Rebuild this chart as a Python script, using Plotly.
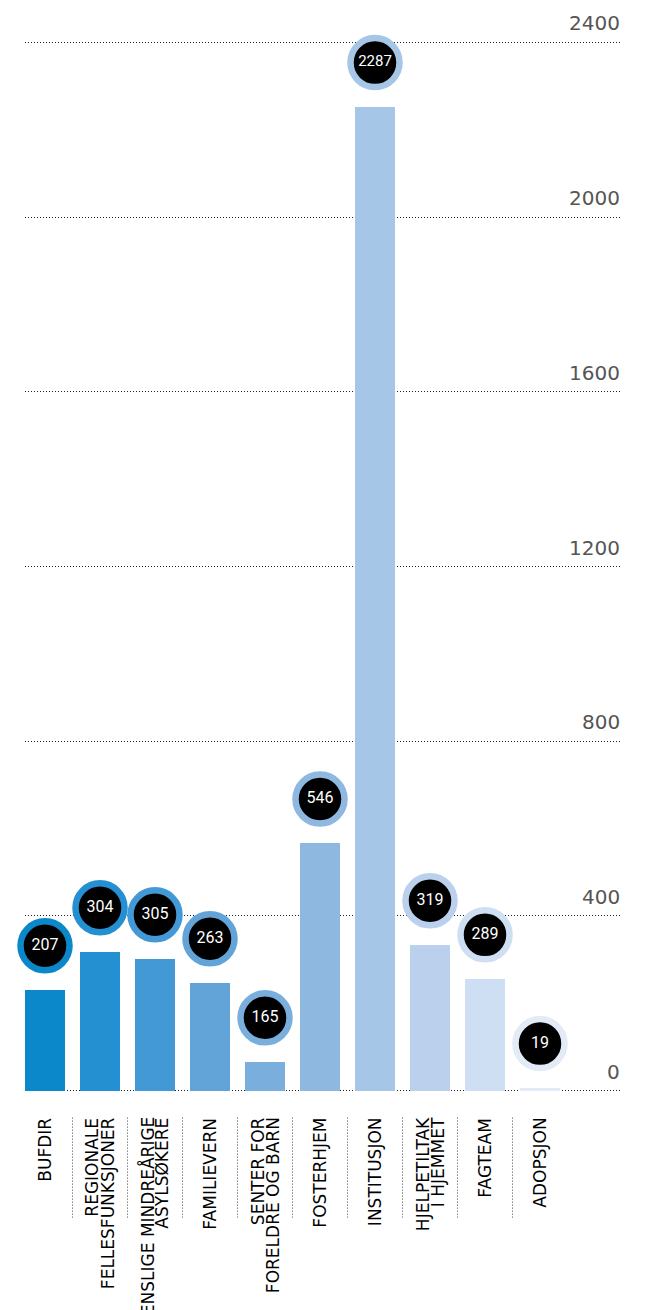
import plotly.graph_objects as go

# ---- data ----
categories = [
    "BUFDIR",
    "REGIONALE\nFELLESFUNKSJONER",
    "ENSLIGE MINDREÅRIGE\nASYLSØKERE",
    "FAMILIEVERN",
    "SENTER FOR\nFORELDRE OG BARN",
    "FOSTERHJEM",
    "INSTITUSJON",
    "HJELPETILTAK\nI HJEMMET",
    "FAGTEAM",
    "ADOPSJON",
]
bar_values = [231, 318, 302, 247, 66, 567, 2253, 334, 256, 7]
label_values = [207, 304, 305, 263, 165, 546, 2287, 319, 289, 19]
colors = ["#0a88c9", "#2590d1", "#4399d5", "#62a3d8", "#7aaedd",
          "#8fb8e1", "#a6c6e7", "#bad0ec", "#cfdff3", "#e3ebf7"]
y_ticks = [0, 400, 800, 1200, 1600, 2000, 2400]

# ---- layout constants (page body has an 8px margin) ----
PAGE_OFF = 8
W, H = 659 - PAGE_OFF, 1310 - PAGE_OFF
PLOT_LEFT, PLOT_RIGHT = 25, 622          # page pixels
Y0_PX, YTOP_PX = 1091, 42               # page pixels of value 0 and 2400
Y_MAX = 2400
Y_PAD = 10                               # data units of headroom so edge gridlines draw
PX_PER_UNIT = (Y0_PX - YTOP_PX) / Y_MAX
plot_top = YTOP_PX - Y_PAD * PX_PER_UNIT
plot_bot = Y0_PX + Y_PAD * PX_PER_UNIT
ML = PLOT_LEFT - PAGE_OFF
MR = 659 - PLOT_RIGHT
MT = plot_top - PAGE_OFF
MB = 1310 - plot_bot
PLOT_W = PLOT_RIGHT - PLOT_LEFT
PLOT_H = plot_bot - plot_top
CAT_PX = 55
BAR_PX = 40
X0 = -(BAR_PX / 2) / CAT_PX
X1 = X0 + PLOT_W / CAT_PX
CIRCLE_OFFSET = 44 / PX_PER_UNIT  # circle centre sits 44px above bar top

xs = list(range(len(categories)))

fig = go.Figure()
fig.add_trace(go.Bar(
    x=xs, y=bar_values,
    width=BAR_PX / CAT_PX,
    marker=dict(color=colors, line=dict(width=0)),
    hoverinfo="skip",
))
fig.add_trace(go.Scatter(
    x=xs, y=[v + CIRCLE_OFFSET for v in bar_values],
    mode="markers+text",
    text=[str(v) for v in label_values],
    textposition="middle center",
    textfont=dict(family="Roboto", color="white",
                  size=[15 if len(str(v)) > 3 else 16 for v in label_values]),
    marker=dict(size=49, color="black", line=dict(color=colors, width=6.5)),
    cliponaxis=False,
    hoverinfo="skip",
))

annotations = []
shapes = []
LINE_PITCH = 15
for i, cat in enumerate(categories):
    lines = cat.split("\n")
    n = len(lines)
    for k, ln in enumerate(lines):
        annotations.append(dict(
            x=i, y=0, xref="x", yref="y",
            text=ln, showarrow=False, textangle=-90,
            xanchor="center", yanchor="top",
            xshift=(k - (n - 1) / 2) * LINE_PITCH,
            yshift=-25,
            font=dict(family="DejaVu Sans", size=17, color="black"),
        ))
for t in y_ticks:
    annotations.append(dict(
        x=1, y=t, xref="paper", yref="y",
        text=str(t), showarrow=False,
        xanchor="right", yanchor="bottom", yshift=5,
        font=dict(family="DejaVu Sans", size=20, color="#555555"),
    ))
for i in range(len(categories) - 1):
    shapes.append(dict(
        type="line", xref="x", yref="paper",
        x0=i + 0.5, x1=i + 0.5,
        y0=-(1118 - plot_bot) / PLOT_H, y1=-(1218 - plot_bot) / PLOT_H,
        line=dict(color="#444444", width=1, dash="1px,2px"),
    ))

fig.update_layout(
    width=W, height=H,
    margin=dict(l=ML, r=MR, t=MT, b=MB, pad=0),
    paper_bgcolor="white", plot_bgcolor="white",
    showlegend=False,
    bargap=0,
    xaxis=dict(range=[X0, X1], showticklabels=False, showgrid=False,
               zeroline=False, showline=False, ticks=""),
    yaxis=dict(range=[-Y_PAD, Y_MAX + Y_PAD], tickvals=y_ticks,
               showticklabels=False,
               showgrid=True, gridcolor="#222222", gridwidth=1,
               griddash="1px,2px", zeroline=False, showline=False, ticks=""),
    annotations=annotations,
    shapes=shapes,
)

fig.write_html("out.html")
